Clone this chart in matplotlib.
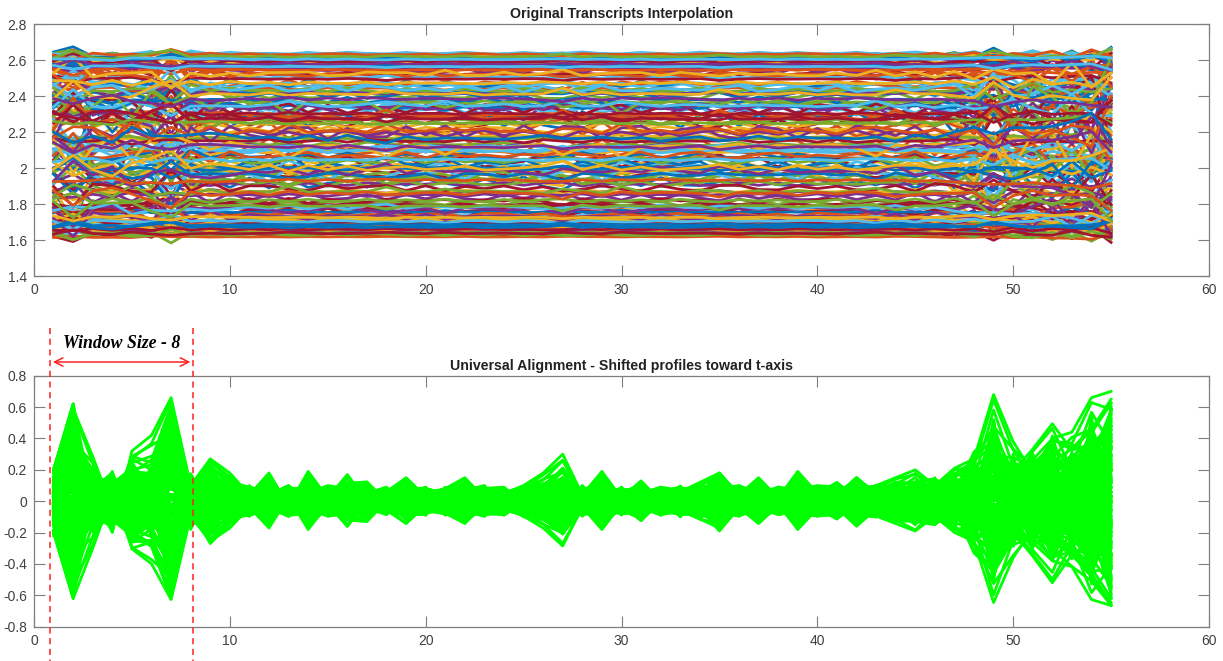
import numpy as np
import matplotlib
matplotlib.use("Agg")
import matplotlib.pyplot as plt

plt.rcParams['font.family'] = ['Liberation Sans', 'DejaVu Sans']

# time points of each interpolated transcript profile
T = list(range(1, 56))

# deviation profiles (shifted toward the t-axis)
SHAPE_A = [0.20, 0.62, -0.15, 0.12, -0.18, 0.20, -0.58, 0.15, -0.20, 0.10,
           -0.08, 0.10, -0.06, 0.09, 0.05, -0.08, 0.10, -0.05, 0.07, -0.09,
           0.06, 0.08, -0.07, 0.05, -0.10, 0.09, 0.12, -0.06, 0.08, -0.05,
           0.07, -0.09, 0.06, 0.10, -0.08, 0.05, -0.07, 0.09, 0.06, -0.08,
           0.10, -0.06, 0.08, -0.10, 0.12, -0.14, 0.16, -0.20, 0.52, -0.25,
           0.28, -0.33, 0.30, -0.50, 0.58]
SHAPE_B = [-0.15, -0.55, 0.18, -0.16, 0.14, -0.22, 0.60, -0.12, 0.18, -0.12,
           0.10, -0.07, 0.09, -0.10, 0.07, 0.06, -0.09, 0.08, -0.06, 0.05,
           -0.09, 0.07, 0.10, -0.08, 0.06, -0.07, -0.12, 0.10, -0.05, 0.09,
           -0.06, 0.08, -0.10, 0.05, 0.12, -0.08, 0.06, -0.05, 0.10, 0.07,
           -0.08, 0.10, -0.06, 0.09, -0.12, 0.15, -0.18, 0.22, -0.45, 0.30,
           -0.25, 0.34, -0.32, 0.55, -0.62]
SHAPE_C = [0.10, 0.45, 0.05, -0.20, 0.32, 0.42, 0.66, 0.10, 0.27, 0.18,
           0.04, 0.18, -0.03, 0.19, 0.02, 0.17, 0.00, 0.06, 0.15, 0.03,
           0.08, 0.15, 0.02, 0.05, 0.10, 0.18, 0.30, 0.04, 0.19, 0.02,
           0.13, 0.00, 0.06, 0.12, 0.18, 0.04, 0.15, 0.02, 0.19, 0.05,
           0.12, 0.02, 0.10, 0.15, 0.20, 0.10, 0.21, 0.27, 0.68, 0.38,
           0.18, 0.40, 0.44, 0.66, 0.70]
SHAPE_D = [-0.20, -0.62, -0.30, 0.05, -0.30, -0.26, -0.62, -0.05, -0.27, -0.14,
           -0.02, -0.16, 0.03, -0.16, -0.04, -0.12, -0.13, 0.00, -0.09, -0.08,
           -0.02, -0.12, -0.05, -0.09, 0.00, -0.11, -0.21, -0.03, -0.12, -0.06,
           -0.11, -0.02, -0.09, -0.05, -0.19, -0.04, -0.14, -0.03, -0.14, -0.06,
           -0.04, -0.16, -0.05, -0.11, -0.13, -0.15, -0.05, -0.33, -0.45, -0.20,
           -0.35, -0.52, -0.34, -0.48, -0.66]
SHAPE_E = [0.05, 0.40, 0.12, 0.15, 0.08, -0.12, 0.45, -0.18, 0.10, -0.05,
           0.07, 0.04, 0.10, -0.04, 0.09, -0.06, 0.05, 0.09, -0.04, 0.08,
           0.05, -0.05, 0.08, 0.09, -0.04, 0.07, 0.05, -0.08, 0.06, 0.08,
           -0.04, 0.06, 0.09, -0.07, 0.05, 0.08, -0.05, 0.07, -0.04, 0.09,
           0.06, -0.05, 0.09, 0.05, -0.08, 0.10, 0.14, -0.12, 0.30, 0.22,
           -0.20, 0.25, 0.20, 0.40, -0.35]
SHAPE_F = [-0.08, 0.50, -0.10, -0.08, 0.15, 0.10, -0.50, 0.08, -0.15, 0.09,
           -0.05, -0.08, 0.05, 0.07, -0.09, 0.04, -0.06, -0.07, 0.08, -0.05,
           0.09, -0.06, 0.04, -0.07, 0.08, -0.05, 0.09, 0.06, -0.08, 0.05,
           0.09, -0.05, 0.04, 0.08, -0.06, -0.09, 0.07, 0.05, -0.07, 0.04,
           -0.07, 0.08, 0.04, -0.06, 0.09, -0.12, -0.10, 0.18, -0.35, 0.15,
           0.30, -0.22, 0.28, -0.35, 0.45]
SHAPE_G = [0.15, -0.35, 0.08, 0.18, -0.10, 0.15, 0.30, 0.12, 0.05, 0.12,
           0.09, 0.06, -0.08, 0.05, 0.10, 0.08, 0.04, -0.06, 0.05, 0.09,
           -0.05, 0.09, 0.06, 0.04, 0.09, 0.10, -0.06, 0.08, 0.10, -0.07,
           0.05, 0.09, 0.07, 0.04, 0.08, 0.10, 0.05, 0.09, 0.07, 0.10,
           0.09, 0.06, -0.07, 0.10, 0.06, 0.12, 0.08, 0.15, 0.20, -0.18,
           0.22, 0.30, -0.25, 0.30, 0.52]
SHAPE_H = [-0.22, 0.25, -0.15, -0.12, -0.22, 0.05, 0.20, -0.15, -0.10, -0.10,
           -0.09, -0.05, -0.09, -0.08, -0.05, -0.10, -0.07, 0.04, -0.08, -0.06,
           -0.08, -0.04, -0.09, -0.06, -0.08, -0.09, 0.06, -0.09, -0.04, -0.08,
           -0.07, -0.04, -0.08, -0.09, 0.05, -0.07, -0.09, -0.06, -0.05, -0.09,
           -0.06, -0.09, -0.10, 0.05, -0.09, -0.07, -0.16, -0.25, 0.15, -0.18,
           -0.28, -0.20, -0.30, -0.40, 0.30]
SHAPES = [SHAPE_A, SHAPE_B, SHAPE_C, SHAPE_D, SHAPE_E, SHAPE_F, SHAPE_G, SHAPE_H]

# weights of the main profile and of a partner profile for each transcript
GAIN_MAIN = [1.0, 0.9, 0.8, 0.7, 0.6, 0.5, 0.4, 0.3, 0.2, 0.1,
             -0.05, -0.15, -0.25, -0.35, -0.45, -0.55, -0.65, -0.75, -0.85, -0.95]
GAIN_PARTNER = [0.0, -0.1, 0.2, -0.3, 0.35, -0.4, 0.15, 0.45, -0.25, 0.3,
                -0.35, 0.1, 0.4, -0.2, 0.25, -0.45, 0.05, 0.25, -0.15, 0.0]
# how strongly each profile shows in the original (upper) panel
GAIN_ORIGINAL = [0.07, 0.45, 0.22, 0.5, 0.1, 0.24, 0.42, 0.08, 0.22, 0.5,
                 0.2, 0.45, 0.06, 0.25, 0.48, 0.2, 0.1, 0.22, 0.2, 0.05]

# mean expression level of each transcript (upper panel)
LEVELS_A = [2.63, 2.12, 1.78, 2.30, 1.64, 2.45, 1.98, 2.58, 2.05, 2.21, 1.86, 2.37, 1.69, 2.52, 1.93, 2.28, 2.61, 1.75, 2.40, 1.66]
LEVELS_B = [1.63, 2.27, 2.50, 1.95, 2.60, 1.81, 2.33, 1.70, 2.42, 2.08, 2.17, 1.91, 2.56, 1.74, 2.25, 2.47, 1.67, 2.02, 1.84, 2.63]
LEVELS_C = [2.57, 2.00, 2.39, 2.18, 1.68, 2.53, 1.90, 2.62, 1.79, 2.34, 2.44, 2.10, 1.65, 2.14, 2.03, 1.77, 2.59, 2.48, 2.23, 1.71]
LEVELS_D = [1.72, 2.36, 1.83, 2.06, 2.55, 2.19, 2.13, 1.64, 2.51, 1.96, 1.76, 2.29, 2.62, 2.41, 1.92, 2.09, 1.69, 2.32, 2.54, 2.58]
LEVELS_E = [2.60, 1.94, 2.46, 2.31, 1.67, 1.73, 2.24, 2.56, 2.16, 2.11, 2.49, 2.01, 1.62, 1.87, 2.35, 2.43, 2.64, 1.80, 2.07, 1.68]
LEVELS_F = [1.66, 2.20, 2.04, 1.97, 2.59, 2.38, 2.07, 1.71, 1.85, 2.26, 2.12, 2.15, 2.57, 2.52, 1.99, 1.73, 1.63, 2.44, 1.89, 2.61]
LEVELS_G = [2.54, 2.09, 1.76, 2.34, 1.70, 2.27, 1.95, 2.63, 2.47, 2.19, 1.82, 2.05, 1.66, 2.00, 2.22, 2.53, 2.58, 1.88, 2.36, 1.64]
LEVELS_H = [1.69, 2.31, 2.42, 2.02, 2.62, 1.80, 2.28, 1.67, 1.94, 1.99, 2.39, 2.24, 2.60, 2.30, 2.14, 1.86, 1.72, 2.10, 1.78, 2.56]
LEVELS = [LEVELS_A, LEVELS_B, LEVELS_C, LEVELS_D, LEVELS_E, LEVELS_F, LEVELS_G, LEVELS_H]

TITLE_TOP = "Original Transcripts Interpolation"
TITLE_BOTTOM = "Universal Alignment - Shifted profiles toward t-axis"
WINDOW_LABEL = "Window Size - 8"
WINDOW = [1, 8]

MATLAB_COLORS = ['#0072BD', '#D95319', '#EDB120', '#7E2F8E', '#77AC30', '#4DBEEE', '#A2142F']

W, H = 1223, 661
fig = plt.figure(figsize=(W / 100, H / 100), dpi=100)
ax1 = fig.add_axes([34 / W, 1 - 276 / H, 1175 / W, 252 / H])
ax2 = fig.add_axes([34 / W, 1 - 626.7 / H, 1175 / W, 251 / H])

t = np.array(T)
n_sh = len(SHAPES)
profiles = []
for i in range(n_sh):
    main = np.array(SHAPES[i])
    partner = np.array(SHAPES[(i + 3) % n_sh])
    for j in range(len(GAIN_MAIN)):
        profiles.append((i, j, GAIN_MAIN[j] * main + GAIN_PARTNER[j] * partner))

for k, (i, j, p) in enumerate(profiles):
    ax1.plot(t, LEVELS[i][j] + GAIN_ORIGINAL[j] * p,
             color=MATLAB_COLORS[k % len(MATLAB_COLORS)], lw=2.0, solid_joinstyle='round')
for k, (i, j, p) in enumerate(profiles):
    ax2.plot(t, p, color='#00FF00', lw=2.0, solid_joinstyle='round')

edge = '#7f7f7f'
txt = '#404040'
for ax, ylim, yt in [(ax1, (1.4, 2.8), np.arange(1.4, 2.81, 0.2)),
                     (ax2, (-0.8, 0.8), np.arange(-0.8, 0.81, 0.2))]:
    ax.set_xlim(0, 60)
    ax.set_ylim(*ylim)
    ax.set_xticks(range(0, 61, 10))
    ax.set_yticks(yt)
    ax.set_yticklabels(['%g' % round(v, 1) if abs(v) > 1e-9 else '0' for v in yt])
    ax.tick_params(direction='in', length=8, width=0.8, color=edge, labelcolor=txt,
                   labelsize=10, top=True, right=True, pad=5)
    for sp in ax.spines.values():
        sp.set_color(edge)
        sp.set_linewidth(0.9)

ax1.set_title(TITLE_TOP, fontsize=10.2, fontweight='bold', color='#222222', pad=4)
ax2.set_title(TITLE_BOTTOM, fontsize=10.2, fontweight='bold', color='#222222', pad=4)

def fy(py):
    return 1 - py / H

x_left = ax2.transData.transform((WINDOW[0], 0))[0]
x_right = ax2.transData.transform((WINDOW[1], 0))[0]
xl = x_left / fig.dpi / fig.get_figwidth() - 3.5 / W
xr = x_right / fig.dpi / fig.get_figwidth() + 2.5 / W
for xv in (xl, xr):
    fig.add_artist(matplotlib.lines.Line2D([xv, xv], [fy(328), 0], color='#FF2020',
                                           lw=1.1, ls=(0, (4, 3))))
fig.add_artist(matplotlib.patches.FancyArrowPatch((xl, fy(362)), (xr, fy(362)),
                                                  arrowstyle='<->,head_length=6,head_width=3',
                                                  color='#FF2020', lw=1.1,
                                                  transform=fig.transFigure))
fig.text((xl + xr) / 2, fy(344), WINDOW_LABEL, family=['Liberation Serif', 'DejaVu Serif'],
         style='italic', fontweight='bold', fontsize=12.8, color='black', ha='center', va='center')

fig.savefig('out.png', dpi=100)
